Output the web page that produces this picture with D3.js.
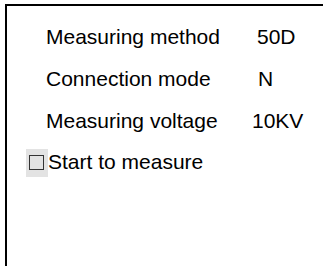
<!DOCTYPE html>
<html><head><meta charset="utf-8">
<script src="https://cdn.jsdelivr.net/npm/d3@7"></script>
<style>html,body{margin:0;padding:0;background:#fff;overflow:hidden}</style>
</head><body>
<svg id="c" width="323" height="266"></svg>
<script>
const labels = ["Measuring method", "Connection mode", "Measuring voltage"];
const values = ["50D", "N", "10KV"];
const valueX = [257, 258, 252];
const actionLabel = "Start to measure";

const svg = d3.select("#c");
const font = "Arial, 'Liberation Sans', sans-serif";
const fs = 21;

// frame
svg.append("line").attr("x1", 5).attr("x2", 323).attr("y1", 5).attr("y2", 5)
  .attr("stroke", "#000").attr("stroke-width", 2);
svg.append("line").attr("x1", 6).attr("x2", 6).attr("y1", 4).attr("y2", 266)
  .attr("stroke", "#000").attr("stroke-width", 2);

const y = d3.scalePoint().domain(d3.range(labels.length)).range([44, 128]);

svg.selectAll("text.lab").data(labels).join("text").attr("class", "lab")
  .attr("x", 46).attr("y", (d, i) => y(i))
  .attr("font-family", font).attr("font-size", fs).attr("fill", "#000").text(d => d);
svg.selectAll("text.val").data(values).join("text").attr("class", "val")
  .attr("x", (d, i) => valueX[i]).attr("y", (d, i) => y(i))
  .attr("font-family", font).attr("font-size", fs).attr("fill", "#000").text(d => d);

// checkbox
svg.append("rect").attr("x", 26).attr("y", 149).attr("width", 22).attr("height", 28).attr("fill", "#e3e3e3");
svg.append("rect").attr("x", 29.5).attr("y", 155.5).attr("width", 14).attr("height", 14)
  .attr("fill", "#e3e3e3").attr("stroke", "#333").attr("stroke-width", 1);
svg.append("text").attr("x", 48).attr("y", 169)
  .attr("font-family", font).attr("font-size", fs).attr("fill", "#000").text(actionLabel);
</script>
</body></html>
